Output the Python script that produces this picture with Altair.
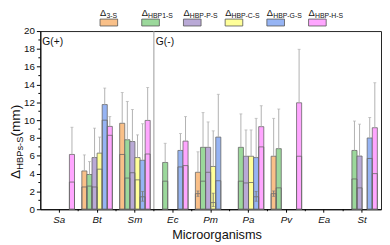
import altair as alt
import pandas as pd

categories = ["Sa", "Bt", "Sm", "Ec", "Pm", "Pa", "Pv", "Ea", "St"]
series = ["3-S", "HBP1-S", "HBP-P-S", "HBP-C-S", "HBP-G-S", "HBP-H-S"]
colors = ["#F9C089", "#9BD89B", "#B9A9D6", "#FFFF99", "#96B4F4", "#FFA6FF"]

bar_cat = ["Sa",
           "Bt", "Bt", "Bt", "Bt", "Bt", "Bt",
           "Sm", "Sm", "Sm", "Sm", "Sm", "Sm",
           "Ec", "Ec", "Ec",
           "Pm", "Pm", "Pm", "Pm", "Pm",
           "Pa", "Pa", "Pa", "Pa", "Pa",
           "Pv", "Pv", "Pv",
           "St", "St", "St", "St"]
bar_series = ["HBP-H-S",
              "3-S", "HBP1-S", "HBP-P-S", "HBP-C-S", "HBP-G-S", "HBP-H-S",
              "3-S", "HBP1-S", "HBP-P-S", "HBP-C-S", "HBP-G-S", "HBP-H-S",
              "HBP1-S", "HBP-G-S", "HBP-H-S",
              "3-S", "HBP1-S", "HBP-P-S", "HBP-C-S", "HBP-G-S",
              "HBP1-S", "HBP-P-S", "HBP-C-S", "HBP-G-S", "HBP-H-S",
              "3-S", "HBP1-S", "HBP-H-S",
              "HBP1-S", "HBP-P-S", "HBP-G-S", "HBP-H-S"]
bar_value = [6.15,
             4.3, 3.9, 5.8, 6.3, 11.75, 9.3,
             9.65, 7.8, 7.6, 5.8, 5.5, 9.97,
             5.25, 6.6, 7.65,
             4.15, 6.95, 6.95, 4.8, 8.1,
             6.95, 5.95, 5.95, 5.8, 9.27,
             5.95, 6.8, 11.95,
             6.6, 5.97, 8.0, 9.15]
bar_inner = [3.05,
             2.5, 2.6, 2.5, 4.5, 10.0, 8.3,
             6.15, 3.5, 4.1, 3.3, 1.4, 6.2,
             3.15, 4.75, 4.9,
             1.75, 3.15, 4.15, 0.75, 3.2,
             3.15, 2.95, 3.0, 1.4, 7.0,
             1.75, 2.4, 5.95,
             3.4, 2.4, 5.7, 4.0]
bar_err = [3.05,
           1.8, 1.45, 3.3, 1.8, 1.85, 1.1,
           3.45, 4.3, 3.6, 2.55, 4.1, 3.7,
           2.15, 1.9, 2.75,
           2.3, 3.9, 2.85, 4.0, 4.8,
           3.75, 2.95, 2.95, 4.4, 2.35,
           4.25, 4.45, 6.0,
           3.3, 3.58, 2.3, 5.05]

ie_cat = ["Sm", "Pm", "Pm", "Pa", "Pv"]
ie_series = ["HBP-G-S", "3-S", "HBP-C-S", "HBP-G-S", "3-S"]
ie_lo = [0.9, 1.45, 0.3, 0.9, 1.45]
ie_hi = [2.0, 2.05, 1.8, 2.0, 2.05]

minor_y = [1, 3, 5, 7, 9, 11, 13, 15, 17, 19]
group_labels = ["G(+)", "G(-)"]
group_start = ["Sa", "Ec"]

W, H = 348, 182
FONT = "Liberation Sans"

df = pd.DataFrame({"cat": bar_cat, "series": bar_series, "value": bar_value,
                   "inner": bar_inner, "err": bar_err})
df["top"] = df["value"] + df["err"]
ie_df = pd.DataFrame({"cat": ie_cat, "series": ie_series, "lo": ie_lo, "hi": ie_hi})

x_scale = alt.Scale(domain=categories, paddingInner=0, paddingOuter=0)
x_axis = alt.Axis(tickSize=3, labelPadding=3, labelFontSize=10, labelFontStyle="italic",
                  labelAngle=0, titleFontSize=13, titleFontWeight="normal", titlePadding=4,
                  grid=False, titleX=180)
y_scale = alt.Scale(domain=[0, 20], nice=False)
y_axis = alt.Axis(values=list(range(0, 21, 2)), tickSize=4, labelPadding=2,
                  labelFontSize=10, grid=False, title=None)
xo = alt.XOffset("series:N", scale=alt.Scale(domain=series, paddingInner=0, paddingOuter=0.72))
color_scale = alt.Scale(domain=series, range=colors)


def xenc(**kw):
    return alt.X("cat:N", scale=x_scale, axis=x_axis, title="Microorganisms", **kw)


def yenc(field):
    return alt.Y(field, scale=y_scale, axis=y_axis, title=None)


bars = alt.Chart(df).mark_bar(stroke="#666", strokeWidth=0.8).encode(
    x=xenc(), xOffset=xo, y=yenc("value:Q"),
    fill=alt.Fill("series:N", scale=color_scale, legend=None))
inner = alt.Chart(df).mark_bar(fillOpacity=0, stroke="#666", strokeWidth=0.8).encode(
    x=xenc(), xOffset=xo, y=yenc("inner:Q"))
err_rule = alt.Chart(df).mark_rule(color="#b0b0b0", strokeWidth=1).encode(
    x=xenc(), xOffset=xo, y=yenc("value:Q"), y2="top:Q")
err_cap = alt.Chart(df).mark_tick(color="#b0b0b0", size=3, thickness=1).encode(
    x=xenc(), xOffset=xo, y=yenc("top:Q"))
ie_rule = alt.Chart(ie_df).mark_rule(color="#7a7a7a", strokeWidth=1).encode(
    x=xenc(), xOffset=xo, y=yenc("lo:Q"), y2="hi:Q")
ie_cap1 = alt.Chart(ie_df).mark_tick(color="#7a7a7a", size=3, thickness=1).encode(
    x=xenc(), xOffset=xo, y=yenc("lo:Q"))
ie_cap2 = alt.Chart(ie_df).mark_tick(color="#7a7a7a", size=3, thickness=1).encode(
    x=xenc(), xOffset=xo, y=yenc("hi:Q"))

divider = alt.Chart(pd.DataFrame({"cat": ["Ec"]})).mark_rule(color="#999", strokeWidth=1).encode(
    x=xenc(bandPosition=0), y=alt.value(0), y2=alt.value(H))
minor_x = alt.Chart(pd.DataFrame({"cat": categories[1:]})).mark_rule(color="#000").encode(
    x=xenc(bandPosition=0), y=alt.value(H), y2=alt.value(H + 2))
minor_yt = alt.Chart(pd.DataFrame({"v": minor_y})).mark_rule(color="#000").encode(
    y=yenc("v:Q"), x=alt.value(-2), x2=alt.value(0))
gtext = alt.Chart(pd.DataFrame({"cat": group_start, "label": group_labels})).mark_text(
    align="left", dx=2, fontSize=10.5, baseline="alphabetic", font=FONT, color="#111").encode(
    x=xenc(bandPosition=0), y=alt.value(H * (1 - 18.45 / 20)), text="label:N")

data_layer = alt.layer(bars, inner, err_rule, err_cap, ie_rule, ie_cap1, ie_cap2,
                       divider, minor_x, minor_yt, gtext)

leg_df = pd.DataFrame({"series": series, "label": series})
lx = alt.X("series:N", scale=alt.Scale(domain=series, type="point", range=[70, 283], padding=0),
           axis=None)
leg_rect = alt.Chart(leg_df).mark_point(
    shape="M-1,-0.39L1,-0.39L1,0.39L-1,0.39Z", size=324, filled=True, opacity=1,
    stroke="#555", strokeWidth=0.8).encode(
    x=lx, y=alt.value(-8.7), fill=alt.Fill("series:N", scale=color_scale, legend=None))
leg_delta = alt.Chart(leg_df).mark_text(text="Δ", align="left", dx=-9, fontSize=9.5,
                                        font=FONT, color="#111").encode(x=lx, y=alt.value(-18))
leg_sub = alt.Chart(leg_df).mark_text(align="left", dx=-2.5, fontSize=7, font=FONT,
                                      color="#111").encode(x=lx, y=alt.value(-15.5), text="label:N")
legend_layer = alt.layer(leg_rect, leg_delta, leg_sub)

title_df = pd.DataFrame({"t": ["Δ", "HBPs-S", " (mm)"]})
yt1 = alt.Chart(title_df).transform_filter(alt.datum.t == "Δ").mark_text(
    align="left", baseline="alphabetic", fontSize=14, font=FONT, color="#111").encode(
    x=alt.value(-20.5), y=alt.value(151), text="t:N", angle=alt.value(270))
yt2 = alt.Chart(title_df).transform_filter(alt.datum.t == "HBPs-S").mark_text(
    align="left", baseline="alphabetic", fontSize=9.5, font=FONT, color="#111").encode(
    x=alt.value(-17.5), y=alt.value(141.6), text="t:N", angle=alt.value(270))
yt3 = alt.Chart(title_df).transform_filter(alt.datum.t == " (mm)").mark_text(
    align="left", baseline="alphabetic", fontSize=14, font=FONT, color="#111").encode(
    x=alt.value(-20.5), y=alt.value(107.8), text="t:N", angle=alt.value(270))

chart = alt.layer(data_layer, legend_layer, yt1, yt2, yt3).resolve_scale(x="independent").properties(
    width=W, height=H, autosize="none",
    padding={"left": 33, "top": 21, "right": 1, "bottom": 36}
).configure_view(stroke="#222", strokeWidth=1).configure_axis(
    labelFont=FONT, titleFont=FONT, labelColor="#111", titleColor="#111",
    domainColor="#000", tickColor="#000")

chart.save("out.html", embed_options={"renderer": "svg", "actions": False})
